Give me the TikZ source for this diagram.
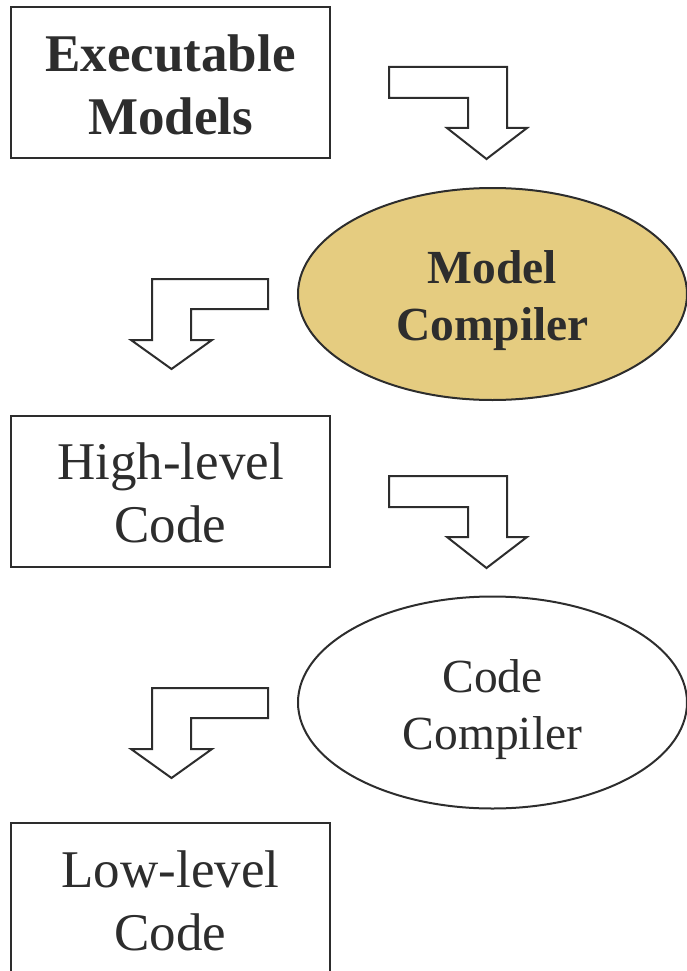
\documentclass[tikz,border=0pt]{standalone}
\usepackage{fontspec}
\setmainfont{Liberation Serif}
\usetikzlibrary{shapes.geometric}
\definecolor{ink}{RGB}{45,45,45}
\definecolor{gold}{RGB}{229,204,128}
\tikzset{
  box/.style={draw=ink, line width=2pt, minimum width=319pt, minimum height=151pt, inner sep=0pt},
  boxtext/.style={text=ink, align=center, inner sep=0pt, font=\fontsize{53}{63}\selectfont},
  oval/.style={draw=ink, line width=2pt, ellipse, minimum width=389pt, minimum height=212pt, inner sep=0pt},
  ovaltext/.style={text=ink, align=center, inner sep=0pt, font=\fontsize{47.5}{57}\selectfont},
  blockarrow/.style={draw=ink, line width=2pt, fill=white, line join=miter}
}
\begin{document}
\begin{tikzpicture}[x=1pt,y=-1pt]
\useasboundingbox (0,0) rectangle (687,971);
% boxes
\node[box] (exe) at (170.5,82.5) {};
\node[boxtext] (exet) at ([yshift=-2pt]exe.center) {\bfseries Executable\\\bfseries Models};
\node[box] (hlc) at (170.5,491) {};
\node[boxtext] (hlct) at ([yshift=-2pt]hlc.center) {High-level\\Code};
\node[box] (llc) at (170.5,898.5) {};
\node[boxtext] (llct) at ([yshift=-2pt]llc.center) {Low-level\\Code};
% ellipses
\node[oval, fill=gold] (mc) at (492.5,294) {};
\node[ovaltext] (mct) at ([yshift=-7pt]mc.center) {\bfseries Model\\\bfseries Compiler};
\node[oval] (cc) at (492.5,702.5) {};
\node[ovaltext] (cct) at ([yshift=-7pt]cc.center) {Code\\Compiler};
% block arrows (right-hand, pointing down)
\foreach \dy in {0, 409}{
  \draw[blockarrow] (389,67+\dy) -- (507,67+\dy) -- (507,128+\dy) -- (527,128+\dy) -- (486.5,159+\dy) -- (447,128+\dy) -- (468,128+\dy) -- (468,98+\dy) -- (389,98+\dy) -- cycle;
}
% block arrows (left-hand, pointing down)
\foreach \dy in {0, 409}{
  \draw[blockarrow] (268,279+\dy) -- (152,279+\dy) -- (152,340+\dy) -- (131,340+\dy) -- (171.5,369+\dy) -- (212,340+\dy) -- (191,340+\dy) -- (191,309+\dy) -- (268,309+\dy) -- cycle;
}
\end{tikzpicture}
\end{document}
